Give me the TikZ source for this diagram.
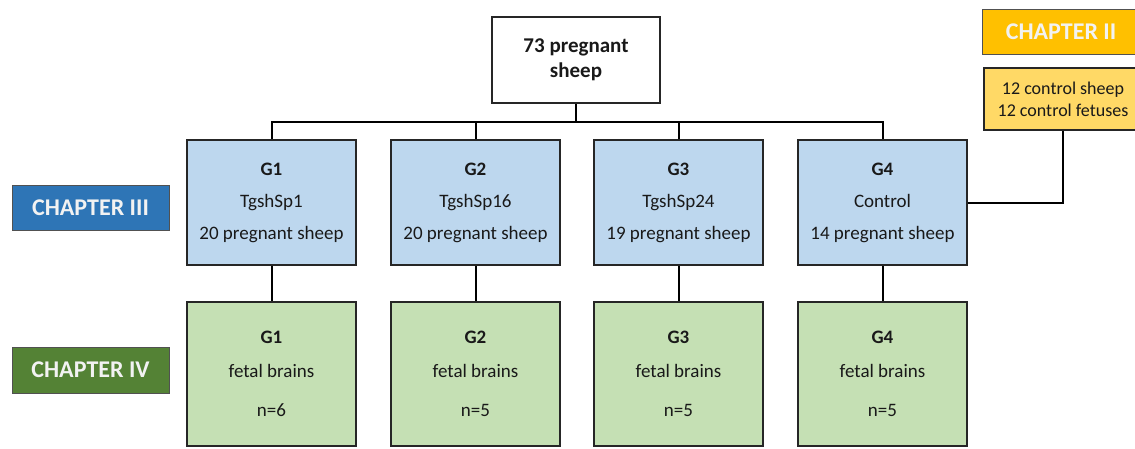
\documentclass[tikz,border=0pt]{standalone}
\usepackage{fontspec}
\setmainfont{Carlito}
\definecolor{bluefill}{HTML}{BDD7EE}
\definecolor{greenfill}{HTML}{C5E0B4}
\definecolor{chtwo}{HTML}{FFC000}
\definecolor{ctrlfill}{HTML}{FFD966}
\definecolor{chthree}{HTML}{2E75B6}
\definecolor{chfour}{HTML}{548235}
\definecolor{edge}{HTML}{262626}
\definecolor{labeltext}{HTML}{F2F2F2}
\tikzset{
  box/.style={draw=edge, line width=2pt, minimum width=169pt, inner sep=0pt, align=center, text=black!90},
  grpbox/.style={box, fill=bluefill, minimum height=125pt, font=\fontsize{19}{32}\selectfont},
  brainbox/.style={box, fill=greenfill, minimum height=144pt, font=\fontsize{19}{34}\selectfont},
  chapter/.style={draw=edge!80, line width=1pt, inner sep=0pt, minimum width=157pt, minimum height=45pt, text=labeltext, font=\fontsize{24}{28}\selectfont\bfseries},
  conn/.style={draw=black, line width=2pt},
}
\begin{document}
\begin{tikzpicture}[x=1pt, y=-1pt]
\useasboundingbox (0,0) rectangle (1135,448);
\clip (0,0) rectangle (1135,448);
\fill[white] (0,0) rectangle (1135,448);
% top node
\node[box, fill=white, minimum width=168pt, minimum height=86pt, font=\fontsize{21}{25}\selectfont\bfseries] (top) at (576,60) {73 pregnant\\sheep};
% chapter labels
\node[chapter, fill=chthree] (ch3) at (90.5,207.5) {CHAPTER III};
\node[chapter, fill=chfour, minimum height=46pt] (ch4) at (90.5,370) {CHAPTER IV};
\node[chapter, fill=chtwo, minimum width=158pt] (ch2) at (1061,31.5) {CHAPTER II};
\node[box, fill=ctrlfill, minimum width=158pt, minimum height=62pt, line width=1.8pt, font=\fontsize{18}{22}\selectfont] (ctrl) at (1063,99) {12 control sheep\\12 control fetuses};
% group boxes
\node[grpbox] (b1) at (271.5,202.5) {\textbf{G1}\\TgshSp1\\20 pregnant sheep};
\node[grpbox] (b2) at (475.5,202.5) {\textbf{G2}\\TgshSp16\\20 pregnant sheep};
\node[grpbox] (b3) at (678.5,202.5) {\textbf{G3}\\TgshSp24\\19 pregnant sheep};
\node[grpbox] (b4) at (882.5,202.5) {\textbf{G4}\\Control\\14 pregnant sheep};
% brain boxes
\node[brainbox] (f1) at (271.5,374) {\textbf{G1}\\fetal brains\\[5pt]n=6};
\node[brainbox] (f2) at (475.5,374) {\textbf{G2}\\fetal brains\\[5pt]n=5};
\node[brainbox] (f3) at (678.5,374) {\textbf{G3}\\fetal brains\\[5pt]n=5};
\node[brainbox] (f4) at (882.5,374) {\textbf{G4}\\fetal brains\\[5pt]n=5};
% connectors
\coordinate (bus) at (0,122);
\draw[conn] (top.south) -- (top.south |- bus);
\draw[conn] (b1.north) -- (b1.north |- bus) -- (b4.north |- bus) -- (b4.north);
\draw[conn] (b2.north) -- (b2.north |- bus);
\draw[conn] (b3.north) -- (b3.north |- bus);
\draw[conn] (b1.south) -- (f1.north);
\draw[conn] (b2.south) -- (f2.north);
\draw[conn] (b3.south) -- (f3.north);
\draw[conn] (b4.south) -- (f4.north);
\draw[conn] (ctrl.south) |- (b4.east);
\end{tikzpicture}
\end{document}
